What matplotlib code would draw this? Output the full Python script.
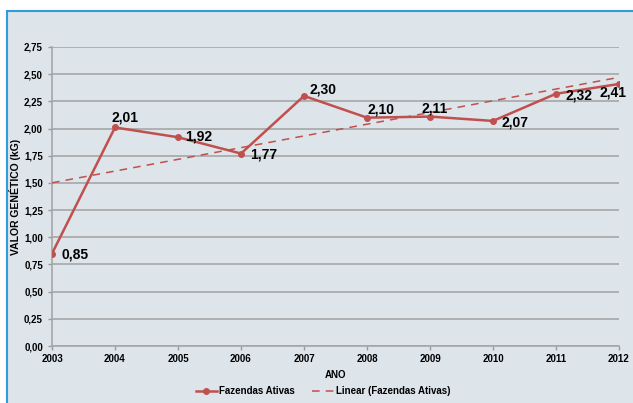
import numpy as np
import matplotlib.pyplot as plt
import matplotlib.patches as mpatches

anos = [2003, 2004, 2005, 2006, 2007, 2008, 2009, 2010, 2011, 2012]
valores = [0.85, 2.01, 1.92, 1.77, 2.30, 2.10, 2.11, 2.07, 2.32, 2.41]
rotulos = ['0,85', '2,01', '1,92', '1,77', '2,30', '2,10', '2,11', '2,07', '2,32', '2,41']
yticks = [0, 0.25, 0.5, 0.75, 1.0, 1.25, 1.5, 1.75, 2.0, 2.25, 2.5, 2.75]

plt.rcParams['font.family'] = ['Liberation Sans', 'DejaVu Sans']
plt.rcParams['font.weight'] = 'bold'

cor = '#C0504D'
fundo = '#DDE4EA'

fig = plt.figure(figsize=(6.33, 4.03), dpi=100)
fig.patch.set_facecolor('white')

# moldura azul (sai pela direita e por baixo)
moldura = mpatches.Rectangle((7 / 633, -0.05), 1.0, 1 - 11 / 403 + 0.05,
                             transform=fig.transFigure, facecolor=fundo,
                             edgecolor='#2F9BDB', linewidth=1.5, zorder=-10)
fig.patches.append(moldura)

ax = fig.add_axes([52 / 633, 57 / 403, 567 / 633, 299 / 403])
ax.set_facecolor('none')
ax.set_zorder(1)

x = np.array(anos)
y = np.array(valores)
a, b = np.polyfit(x, y, 1)
ax.plot(x, a * x + b, color=cor, linestyle=(0, (5, 4)), linewidth=1.1,
        label='Linear (Fazendas Ativas)', zorder=3)
ax.plot(x, y, color=cor, linewidth=1.8, marker='o', markersize=4,
        label='Fazendas Ativas', zorder=4)

# rotulos dos pontos (deslocamento em pixels, borda esquerda do texto)
desloc = {2003: (10, -1), 2004: (-3, 10), 2005: (7, 1), 2006: (9, -1),
          2007: (5, 6), 2008: (0, 8), 2009: (-9, 8), 2010: (8, -2),
          2011: (9, -2), 2012: (-20, -9)}
for ano, v, r in zip(anos, valores, rotulos):
    dx, dy = desloc[ano]
    ax.annotate(r, (ano, v), xytext=(dx, dy), textcoords='offset pixels',
                ha='left', va='center', fontsize=10, fontweight='bold',
                zorder=5, annotation_clip=False)

ax.set_xlim(2003, 2012)
ax.set_ylim(0, 2.75)
ax.set_xticks(anos)
ax.set_yticks(yticks)
ax.set_yticklabels([f'{t:.2f}'.replace('.', ',') for t in yticks])
ax.tick_params(axis='both', labelsize=7, colors='#999999', labelcolor='black',
               length=3, width=1)
ax.tick_params(axis='x', pad=3)
ax.grid(axis='y', color='#A6A6A6', linewidth=1.2, zorder=1)
ax.set_axisbelow(True)
for s in ['top', 'right']:
    ax.spines[s].set_visible(False)
for s in ['left', 'bottom']:
    ax.spines[s].set_color('#A6A6A6')
    ax.spines[s].set_linewidth(1.2)

ax.set_xlabel('ANO', fontsize=7, fontweight='bold', labelpad=4)
ax.set_ylabel('VALOR GENÉTICO (kG)', fontsize=7.5, fontweight='bold', labelpad=2)

h, l = ax.get_legend_handles_labels()
fig.legend(h[::-1], l[::-1], loc='center', bbox_to_anchor=(323 / 633, 1 - 391 / 403),
           ncol=2, frameon=False, fontsize=7, handlelength=2.2, columnspacing=1.8,
           handletextpad=0.2)

fig.savefig('out.png', dpi=100)
